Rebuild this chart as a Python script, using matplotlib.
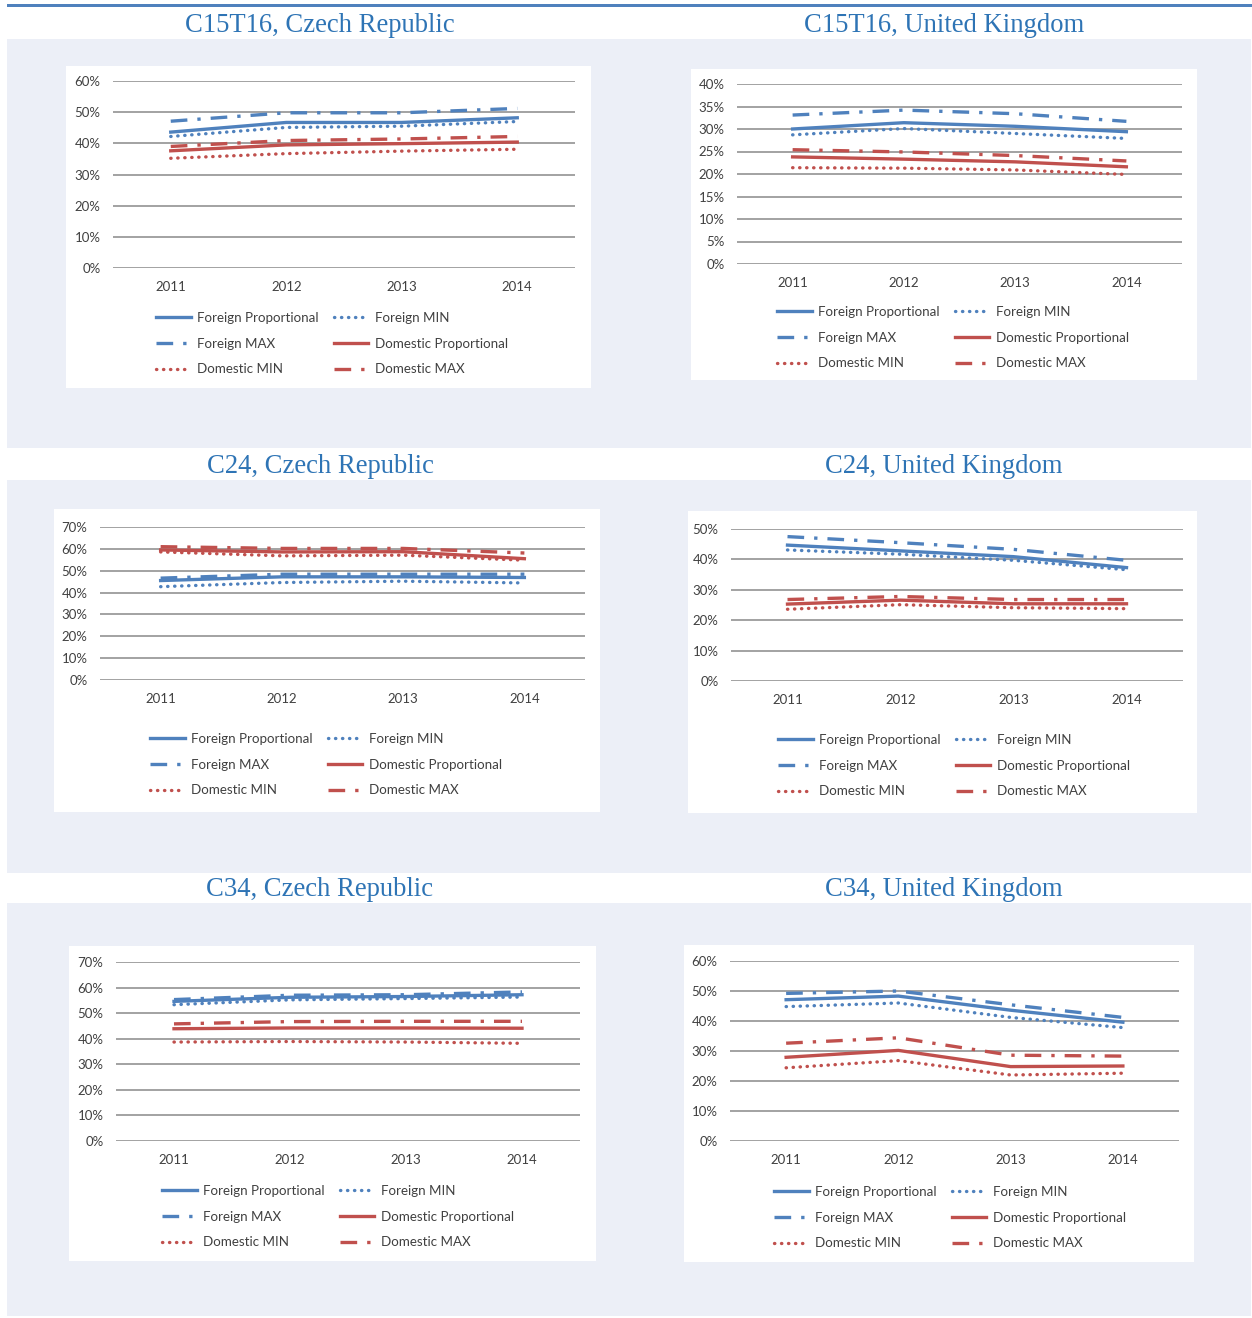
import matplotlib
matplotlib.use('Agg')
import matplotlib.pyplot as plt
import numpy as np
from matplotlib.patches import Rectangle
from matplotlib.ticker import FuncFormatter

W, H = 1252, 1318

YEARS = ['2011', '2012', '2013', '2014']
LABELS = ['Foreign Proportional', 'Foreign MIN', 'Foreign MAX',
          'Domestic Proportional', 'Domestic MIN', 'Domestic MAX']

# ---------------------------------------------------------------------------
# shares in % (Foreign prop / min / max, Domestic prop / min / max)
# ---------------------------------------------------------------------------
c15t16_cz_f_prop = [43.6, 46.7, 46.7, 48.2]
c15t16_cz_f_min = [42.2, 45.1, 45.5, 47.0]
c15t16_cz_f_max = [47.1, 49.8, 49.8, 51.2]
c15t16_cz_d_prop = [37.6, 39.5, 39.9, 40.4]
c15t16_cz_d_min = [35.2, 36.7, 37.5, 38.1]
c15t16_cz_d_max = [39.0, 40.9, 41.4, 42.2]

c15t16_uk_f_prop = [30.0, 31.4, 30.6, 29.4]
c15t16_uk_f_min = [28.7, 30.1, 29.0, 27.9]
c15t16_uk_f_max = [33.1, 34.2, 33.4, 31.7]
c15t16_uk_d_prop = [23.8, 23.3, 22.7, 21.6]
c15t16_uk_d_min = [21.4, 21.3, 20.9, 19.9]
c15t16_uk_d_max = [25.4, 24.9, 24.1, 22.9]

c24_cz_f_prop = [45.5, 47.2, 47.2, 46.9]
c24_cz_f_min = [42.7, 44.6, 45.2, 44.4]
c24_cz_f_max = [46.6, 48.4, 48.4, 48.4]
c24_cz_d_prop = [59.5, 58.6, 58.7, 55.5]
c24_cz_d_min = [58.6, 56.8, 57.1, 54.8]
c24_cz_d_max = [61.0, 60.2, 60.2, 58.1]

c24_uk_f_prop = [44.7, 42.8, 40.9, 37.3]
c24_uk_f_min = [43.1, 41.7, 39.7, 36.6]
c24_uk_f_max = [47.5, 45.5, 43.3, 39.7]
c24_uk_d_prop = [25.3, 26.6, 25.4, 25.4]
c24_uk_d_min = [23.6, 25.1, 24.1, 23.8]
c24_uk_d_max = [26.8, 27.8, 26.8, 26.8]

c34_cz_f_prop = [54.6, 56.2, 56.5, 57.2]
c34_cz_f_min = [53.3, 55.2, 55.7, 56.3]
c34_cz_f_max = [55.3, 57.0, 57.2, 58.3]
c34_cz_d_prop = [43.9, 44.2, 44.2, 44.1]
c34_cz_d_min = [38.7, 38.9, 38.7, 38.2]
c34_cz_d_max = [45.8, 46.7, 46.8, 46.8]

c34_uk_f_prop = [47.1, 48.3, 43.6, 39.6]
c34_uk_f_min = [44.8, 46.0, 41.2, 37.8]
c34_uk_f_max = [49.2, 50.0, 45.4, 41.2]
c34_uk_d_prop = [27.9, 30.2, 24.8, 25.0]
c34_uk_d_min = [24.4, 26.8, 22.0, 22.6]
c34_uk_d_max = [32.6, 34.4, 28.6, 28.3]

# ---------------------------------------------------------------------------
# layout (pixels): title pos, white box, plot area, y scale, legend anchor
# ---------------------------------------------------------------------------
panels = [
    dict(title='C15T16, Czech Republic', tpos=(320, 26),
         box=(66, 66, 591, 388), area=(113, 81, 575, 268),
         ymax=60, step=10, leg=(156, 317),
         data=[c15t16_cz_f_prop, c15t16_cz_f_min, c15t16_cz_f_max,
               c15t16_cz_d_prop, c15t16_cz_d_min, c15t16_cz_d_max]),
    dict(title='C15T16, United Kingdom', tpos=(944, 26),
         box=(691, 69, 1197, 380), area=(737, 84, 1182, 264),
         ymax=40, step=5, leg=(777, 311),
         data=[c15t16_uk_f_prop, c15t16_uk_f_min, c15t16_uk_f_max,
               c15t16_uk_d_prop, c15t16_uk_d_min, c15t16_uk_d_max]),
    dict(title='C24, Czech Republic', tpos=(320, 467),
         box=(54, 509, 600, 812), area=(100, 527, 585, 680),
         ymax=70, step=10, leg=(150, 738),
         data=[c24_cz_f_prop, c24_cz_f_min, c24_cz_f_max,
               c24_cz_d_prop, c24_cz_d_min, c24_cz_d_max]),
    dict(title='C24, United Kingdom', tpos=(944, 467),
         box=(688, 511, 1197, 813), area=(731, 529, 1183, 681),
         ymax=50, step=10, leg=(778, 739),
         data=[c24_uk_f_prop, c24_uk_f_min, c24_uk_f_max,
               c24_uk_d_prop, c24_uk_d_min, c24_uk_d_max]),
    dict(title='C34, Czech Republic', tpos=(320, 890),
         box=(69, 946, 596, 1261), area=(116, 962, 580, 1141),
         ymax=70, step=10, leg=(162, 1190),
         data=[c34_cz_f_prop, c34_cz_f_min, c34_cz_f_max,
               c34_cz_d_prop, c34_cz_d_min, c34_cz_d_max]),
    dict(title='C34, United Kingdom', tpos=(944, 890),
         box=(684, 945, 1194, 1262), area=(730, 961, 1179, 1141),
         ymax=60, step=10, leg=(774, 1191),
         data=[c34_uk_f_prop, c34_uk_f_min, c34_uk_f_max,
               c34_uk_d_prop, c34_uk_d_min, c34_uk_d_max]),
]

BLUE = '#4F81BD'
RED = '#C0504D'
LW = 2.4
DOT = (0, (0.1, 2.0))
DASHDOT = (0, (5, 3, 1, 3))
styles = [
    dict(color=BLUE, ls='-'),
    dict(color=BLUE, ls=DOT, dash_capstyle='round'),
    dict(color=BLUE, ls=DASHDOT),
    dict(color=RED, ls='-'),
    dict(color=RED, ls=DOT, dash_capstyle='round'),
    dict(color=RED, ls=DASHDOT),
]

plt.rcParams['font.family'] = ['Lato', 'DejaVu Sans']


def fx(x):
    return x / W


def fy(y):
    return 1 - y / H


def add_rect(fig, x0, y0, x1, y1, color):
    fig.add_artist(Rectangle((fx(x0), fy(y1)), (x1 - x0) / W, (y1 - y0) / H,
                             transform=fig.transFigure, facecolor=color,
                             edgecolor='none', zorder=0))


fig = plt.figure(figsize=(W / 100, H / 100), dpi=100)
fig.patch.set_facecolor('white')

# top rule and shaded bands
add_rect(fig, 7, 4, 1252, 7, BLUE)
for y0, y1 in [(39, 448), (480, 873), (903, 1316)]:
    add_rect(fig, 7, y0, 1251, y1, '#ECEFF7')

x = np.arange(len(YEARS))
order = [0, 2, 4, 1, 3, 5]   # row-wise legend fill

for p in panels:
    add_rect(fig, *p['box'], 'white')
    fig.text(fx(p['tpos'][0]), fy(p['tpos'][1]), p['title'],
             ha='center', va='center', fontsize=19.2,
             family='Liberation Serif', color='#2E74B5')

    x0, y0, x1, y1 = p['area']
    ax = fig.add_axes([fx(x0), fy(y1), (x1 - x0) / W, (y1 - y0) / H])
    ax.set_facecolor('none')
    lines = []
    for vals, st, lab in zip(p['data'], styles, LABELS):
        ln, = ax.plot(x, vals, lw=LW, label=lab, **st)
        lines.append(ln)

    ax.set_xlim(-0.5, len(YEARS) - 0.5)
    ax.set_ylim(0, p['ymax'])
    ax.set_yticks(np.arange(0, p['ymax'] + 0.1, p['step']))
    ax.yaxis.set_major_formatter(FuncFormatter(lambda v, _: '{:.0f}%'.format(v)))
    ax.set_xticks(x)
    ax.set_xticklabels(YEARS)
    ax.grid(axis='y', color='#898989', lw=1.1)
    ax.set_axisbelow(True)
    for s in ax.spines.values():
        s.set_visible(False)
    ax.tick_params(axis='both', length=0, labelsize=9.5, colors='#404040')
    ax.tick_params(axis='y', pad=9)
    ax.tick_params(axis='x', pad=9.5)

    ax.legend([lines[i] for i in order], [LABELS[i] for i in order],
              loc='upper left', bbox_to_anchor=(fx(p['leg'][0]), fy(p['leg'][1] - 5)),
              bbox_transform=fig.transFigure, ncol=2, frameon=False,
              fontsize=9.6, handlelength=2.6, handletextpad=0.5,
              columnspacing=1.1, labelspacing=1.02, borderpad=0,
              borderaxespad=0, labelcolor='#404040')

fig.savefig('out.png', dpi=100, facecolor='white')
